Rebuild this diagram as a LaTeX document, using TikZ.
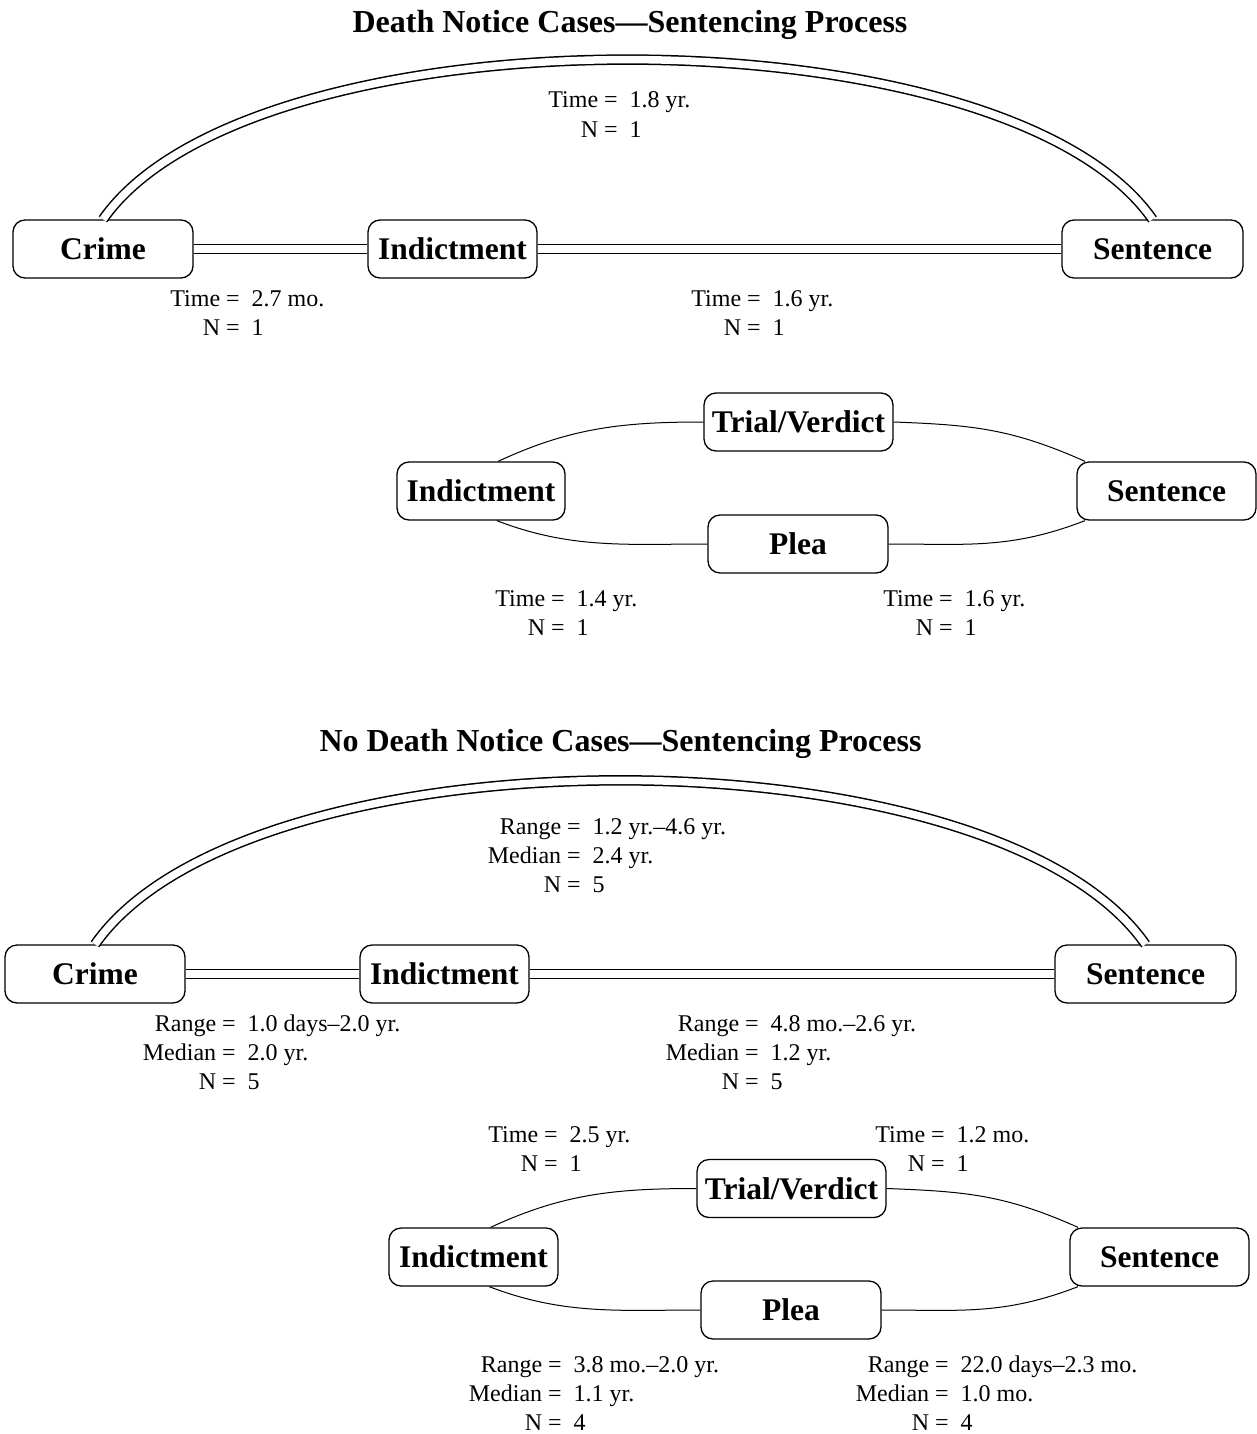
\documentclass[tikz,border=0pt]{standalone}
\usepackage{fontspec}
\setmainfont{Liberation Serif}
\newcommand\eqline[2]{\makebox[0pt][r]{#1\ }=\enspace #2}
\tikzset{
  box/.style={draw, line width=1.3pt, rounded corners=12pt, minimum height=58pt,
    inner sep=0pt, font=\fontsize{31.5}{36}\selectfont\bfseries,
    text height=21pt, text depth=0pt},
  dbl/.style={double, double distance=7.5pt, line width=1.5pt},
  thinline/.style={line width=1pt},
  lbl/.style={inner sep=0pt, font=\fontsize{24}{29.3}\selectfont, anchor=base west},
  ttl/.style={inner sep=0pt, font=\fontsize{32}{38}\selectfont\bfseries, anchor=base}
}
\begin{document}
\begin{tikzpicture}[x=1pt,y=-1pt]
\useasboundingbox (0,0) rectangle (1257,1434);

% ---------- Death Notice Cases ----------
\node[ttl] (title1) at (630,33) {Death Notice Cases---Sentencing Process};

\node[box, minimum width=180pt] (crimeA) at (103,249) {Crime};
\node[box, minimum width=169pt] (indA) at (452.5,249) {Indictment};
\node[box, minimum width=181pt] (senA) at (1152.5,249) {Sentence};

\draw[dbl] (crimeA) -- (indA);
\draw[dbl] (indA) -- (senA);
\draw[dbl] (crimeA.north) .. controls +(149,-213) and +(-149,-213) .. (senA.north);

\node[lbl] (lA1) at (604,108) {\begin{tabular}[t]{@{}l@{}}\eqline{Time}{1.8 yr.}\\ \eqline{N}{1}\end{tabular}};
\node[lbl] (lA2) at (226,306) {\begin{tabular}[t]{@{}l@{}}\eqline{Time}{2.7 mo.}\\ \eqline{N}{1}\end{tabular}};
\node[lbl] (lA3) at (747,306) {\begin{tabular}[t]{@{}l@{}}\eqline{Time}{1.6 yr.}\\ \eqline{N}{1}\end{tabular}};

\node[box, minimum width=168pt] (ind2A) at (481,491) {Indictment};
\node[box, minimum width=189pt] (tvA) at (798.5,422) {Trial/Verdict};
\node[box, minimum width=180pt] (pleaA) at (798,544) {Plea};
\node[box, minimum width=179pt] (sen2A) at (1166.5,491) {Sentence};

\draw[thinline] (ind2A.60) .. controls +(72.5,-33.8) and +(-80,0) .. (tvA.west);
\draw[thinline] (tvA.east) .. controls +(80,3) and +(-73,-32.5) .. (sen2A.160);
\draw[thinline] (ind2A.-62) .. controls +(74.7,28.7) and +(-80,0) .. (pleaA.west);
\draw[thinline] (pleaA.east) .. controls +(80,0) and +(-74.7,28.7) .. (sen2A.200);

\node[lbl] (lA4) at (551,606) {\begin{tabular}[t]{@{}l@{}}\eqline{Time}{1.4 yr.}\\ \eqline{N}{1}\end{tabular}};
\node[lbl] (lA5) at (939,606) {\begin{tabular}[t]{@{}l@{}}\eqline{Time}{1.6 yr.}\\ \eqline{N}{1}\end{tabular}};

% ---------- No Death Notice Cases ----------
\node[ttl] (title2) at (620.5,751) {No Death Notice Cases---Sentencing Process};

\node[box, minimum width=180pt] (crimeB) at (95,974) {Crime};
\node[box, minimum width=169pt] (indB) at (444.5,974) {Indictment};
\node[box, minimum width=181pt] (senB) at (1145.5,974) {Sentence};

\draw[dbl] (crimeB) -- (indB);
\draw[dbl] (indB) -- (senB);
\draw[dbl] (crimeB.north) .. controls +(153.1,-218.7) and +(-153.1,-218.7) .. (senB.north);

\node[lbl] (lB1) at (567,834) {\begin{tabular}[t]{@{}l@{}}\eqline{Range}{1.2 yr.--4.6 yr.}\\ \eqline{Median}{2.4 yr.}\\ \eqline{N}{5}\end{tabular}};
\node[lbl] (lB2) at (222,1031) {\begin{tabular}[t]{@{}l@{}}\eqline{Range}{1.0 days--2.0 yr.}\\ \eqline{Median}{2.0 yr.}\\ \eqline{N}{5}\end{tabular}};
\node[lbl] (lB3) at (745,1031) {\begin{tabular}[t]{@{}l@{}}\eqline{Range}{4.8 mo.--2.6 yr.}\\ \eqline{Median}{1.2 yr.}\\ \eqline{N}{5}\end{tabular}};

\node[lbl] (lB4) at (544,1142) {\begin{tabular}[t]{@{}l@{}}\eqline{Time}{2.5 yr.}\\ \eqline{N}{1}\end{tabular}};
\node[lbl] (lB5) at (931,1142) {\begin{tabular}[t]{@{}l@{}}\eqline{Time}{1.2 mo.}\\ \eqline{N}{1}\end{tabular}};

\node[box, minimum width=169pt] (ind2B) at (473.5,1257) {Indictment};
\node[box, minimum width=189pt] (tvB) at (791.5,1188.5) {Trial/Verdict};
\node[box, minimum width=180pt] (pleaB) at (791,1310) {Plea};
\node[box, minimum width=179pt] (sen2B) at (1159.5,1257) {Sentence};

\draw[thinline] (ind2B.60) .. controls +(72.5,-33.8) and +(-80,0) .. (tvB.west);
\draw[thinline] (tvB.east) .. controls +(80,3) and +(-73,-32.5) .. (sen2B.160);
\draw[thinline] (ind2B.-62) .. controls +(74.7,28.7) and +(-80,0) .. (pleaB.west);
\draw[thinline] (pleaB.east) .. controls +(80,0) and +(-74.7,28.7) .. (sen2B.200);

\node[lbl] (lB6) at (548,1372) {\begin{tabular}[t]{@{}l@{}}\eqline{Range}{3.8 mo.--2.0 yr.}\\ \eqline{Median}{1.1 yr.}\\ \eqline{N}{4}\end{tabular}};
\node[lbl] (lB7) at (935,1372) {\begin{tabular}[t]{@{}l@{}}\eqline{Range}{22.0 days--2.3 mo.}\\ \eqline{Median}{1.0 mo.}\\ \eqline{N}{4}\end{tabular}};
\end{tikzpicture}
\end{document}
